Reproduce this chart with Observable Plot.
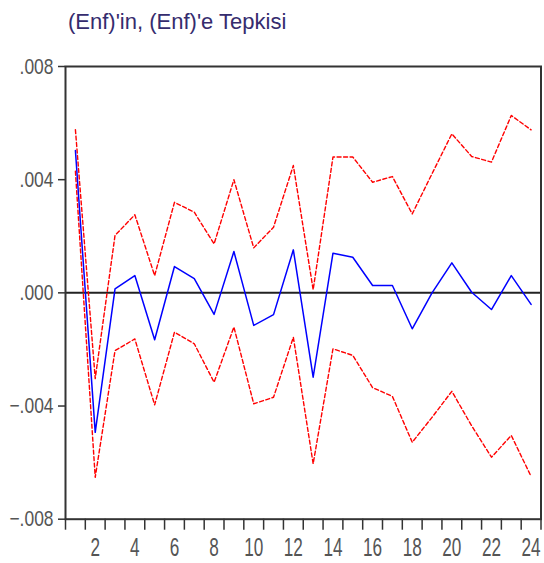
<!DOCTYPE html>
<html>
<head>
<meta charset="utf-8">
<script src="https://cdn.jsdelivr.net/npm/d3@7"></script>
<script src="https://cdn.jsdelivr.net/npm/@observablehq/plot@0.6"></script>
<style>
  html, body { margin: 0; padding: 0; background: #fff; }
  #title { height: 44px; line-height: 44px; padding-left: 68px; font-family: "Liberation Sans", Arial, sans-serif; font-size: 22px; color: #352c6e; white-space: nowrap; }
</style>
</head>
<body>
<div id="title">(Enf)'in, (Enf)'e Tepkisi</div>
<div id="chart"></div>
<script>
const periods = d3.range(1, 25);
const response = [0.00503, -0.00493, 0.00014, 0.00061, -0.00166, 0.00093, 0.00050, -0.00076, 0.00146, -0.00115, -0.00077, 0.00152, -0.00298, 0.00140, 0.00126, 0.00026, 0.00026, -0.00127, 0.00000, 0.00106, 0.00002, -0.00059, 0.00061, -0.00041];
const upper = [0.00577, -0.00303, 0.00203, 0.00276, 0.00061, 0.00320, 0.00285, 0.00173, 0.00400, 0.00159, 0.00232, 0.00450, 0.00011, 0.00480, 0.00480, 0.00391, 0.00411, 0.00279, 0.00421, 0.00562, 0.00482, 0.00462, 0.00627, 0.00576];
const lower = [0.00430, -0.00652, -0.00204, -0.00163, -0.00396, -0.00139, -0.00180, -0.00316, -0.00121, -0.00392, -0.00369, -0.00157, -0.00604, -0.00198, -0.00221, -0.00335, -0.00366, -0.00528, -0.00440, -0.00348, -0.00470, -0.00581, -0.00504, -0.00649];
const yTicks = [-0.008, -0.004, 0, 0.004, 0.008];
const xLabels = [2, 4, 6, 8, 10, 12, 14, 16, 18, 20, 22, 24];

const data = periods.map((p, i) => ({period: p, response: response[i], upper: upper[i], lower: lower[i]}));
const fmt = d => d3.format(".3f")(d).replace("0.", ".").replace("-.000", ".000");
const xTickPos = d3.range(0, 25).map(i => i + 0.5);
const font = "'Liberation Sans', Arial, sans-serif";

const chart = Plot.plot({
  width: 544,
  height: 519,
  marginLeft: 65,
  marginRight: 3.5,
  marginTop: 22,
  marginBottom: 44.3,
  x: {type: "linear", domain: [0.5, 24.5], axis: null},
  y: {domain: [-0.008, 0.008], axis: null},
  style: {background: "#fff", fontFamily: font},
  marks: [
    Plot.ruleY([0], {stroke: "#222", strokeWidth: 2}),
    Plot.line(data, {x: "period", y: "upper", stroke: "#ff0000", strokeWidth: 1.4, strokeDasharray: "4,2.5"}),
    Plot.line(data, {x: "period", y: "lower", stroke: "#ff0000", strokeWidth: 1.4, strokeDasharray: "4,2.5"}),
    Plot.line(data, {x: "period", y: "response", stroke: "#0000ff", strokeWidth: 1.5}),
    Plot.frame({stroke: "#333", strokeWidth: 2}),
    Plot.axisY(yTicks, {anchor: "left", label: null, tickSize: 7, tickPadding: 5, tickFormat: fmt, fontSize: 21, fill: "#555", stroke: "#333", strokeWidth: 1.5}),
    Plot.axisX(xTickPos, {anchor: "bottom", label: null, tickSize: 11, tickFormat: () => "", stroke: "#333", strokeWidth: 1.5}),
    Plot.axisX(xLabels, {anchor: "bottom", label: null, tickSize: 0, tickPadding: 19, fontSize: 22, fill: "#555"})
  ]
});
document.getElementById("chart").appendChild(chart);

// condensed look of the original axis labels
chart.querySelectorAll('g[aria-label="y-axis tick label"] text').forEach(t => {
  t.setAttribute("transform", (t.getAttribute("transform") || "") + " scale(0.83,1.05)");
});
chart.querySelectorAll('g[aria-label="x-axis tick label"] text').forEach(t => {
  if (t.textContent) t.setAttribute("transform", (t.getAttribute("transform") || "") + " scale(0.78,1.17)");
});
</script>
</body>
</html>
